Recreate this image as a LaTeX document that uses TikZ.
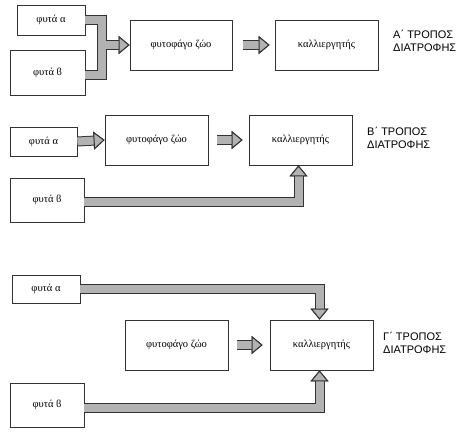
\documentclass[tikz,border=0pt]{standalone}
\usepackage{fontspec}
\setmainfont{Liberation Serif}
\newfontfamily\labelfont{Liberation Sans}
\usetikzlibrary{arrows.meta}
\tikzset{
  box/.style={draw=black!80, line width=0.8pt, inner sep=0pt, font=\fontsize{10.5}{12}\selectfont},
  way/.style={anchor=west, align=left, inner sep=0pt, font=\labelfont\fontsize{11}{13.5}\selectfont},
  bandedge/.style={draw=black!80, line width=10pt},
  bandfill/.style={draw=gray!60, line width=8pt},
  fat/.style={bandfill, preaction={draw=black!80, line width=10pt},
    -{Triangle[length=11pt, width=18pt, line width=1pt, color=black!80, fill=gray!60]}},
}
\begin{document}
\begin{tikzpicture}[x=1pt, y=-1pt]
			\useasboundingbox (0,0) rectangle (469,433);
			% A
			\node[box, minimum width=68pt, minimum height=30pt] (a1) at (51,20) {φυτά α};
			\node[box, minimum width=75pt, minimum height=45pt] (b1) at (47.5,72.5) {φυτά ϐ};
			\node[box, minimum width=102pt, minimum height=50pt] (f1) at (181,45) {φυτοφάγο ζώο};
			\node[box, minimum width=103pt, minimum height=50pt] (k1) at (326.5,45) {καλλιεργητής};
			\node[way] (l1) at (393,41) {Α΄ ΤΡΟΠΟΣ\\ΔΙΑΤΡΟΦΗΣ};
			\coordinate (j1) at (102,45);
			\draw[bandedge] (a1.east) -- (a1.east -| j1) -- ([yshift=-3pt]b1.east -| j1) -- ([yshift=-3pt]b1.east);
			\draw[fat] (j1) -- (f1.west);
			\draw[bandfill] (a1.east) -- (a1.east -| j1) -- ([yshift=-3pt]b1.east -| j1) -- ([yshift=-3pt]b1.east);
			\draw[fat, shorten <=11pt, shorten >=5pt] (f1.east) -- (k1.west);
			% B
			\node[box, minimum width=67pt, minimum height=29pt] (a2) at (43.5,141.5) {φυτά α};
			\node[box, minimum width=103pt, minimum height=50pt] (f2) at (156.5,140) {φυτοφάγο ζώο};
			\node[box, minimum width=103pt, minimum height=50pt] (k2) at (300.5,140) {καλλιεργητής};
			\node[box, minimum width=74pt, minimum height=44pt] (b2) at (47,200) {φυτά ϐ};
			\node[way] (l2) at (367,138) {Β΄ ΤΡΟΠΟΣ\\ΔΙΑΤΡΟΦΗΣ};
			\draw[fat] (a2.east) -- (f2.west);
			\draw[fat, shorten <=9pt, shorten >=6pt] (f2.east) -- (k2.west);
			\draw[fat] ([yshift=-2.5pt]b2.east) -| ([xshift=-2pt]k2.south);
			% C
			\node[box, minimum width=68pt, minimum height=28pt] (a3) at (46,289) {φυτά α};
			\node[box, minimum width=103pt, minimum height=50pt] (f3) at (176.5,345) {φυτοφάγο ζώο};
			\node[box, minimum width=103pt, minimum height=50pt] (k3) at (321.5,345) {καλλιεργητής};
			\node[box, minimum width=74pt, minimum height=44pt] (b3) at (47,405) {φυτά ϐ};
			\node[way] (l3) at (383,343) {Γ΄ ΤΡΟΠΟΣ\\ΔΙΑΤΡΟΦΗΣ};
			\draw[fat] (a3.east) -| ([xshift=-2pt]k3.north);
			\draw[fat, shorten <=9pt, shorten >=7pt] (f3.east) -- (k3.west);
			\draw[fat] ([yshift=-3pt]b3.east) -| ([xshift=-2pt]k3.south);
		\end{tikzpicture}
\end{document}
